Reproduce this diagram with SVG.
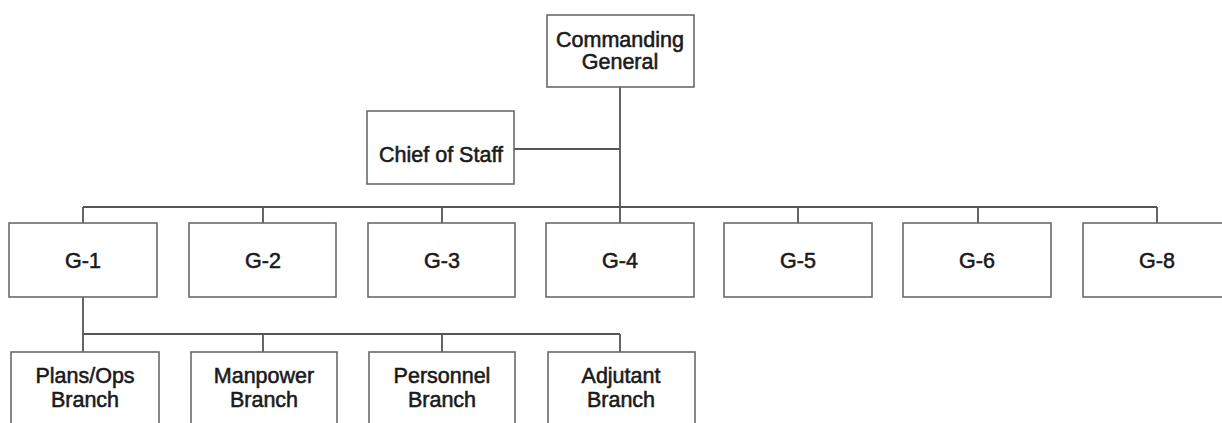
<svg xmlns="http://www.w3.org/2000/svg" width="1222" height="423" viewBox="0 0 1222 423">
<style>
.box{fill:#fff;stroke:#6a6a6a;stroke-width:1.6}
.t{font-family:"Liberation Sans",Arial,sans-serif;font-size:21.5px;fill:#1a1a1a;stroke:#1a1a1a;stroke-width:0.55;text-anchor:middle}
.c{fill:none;stroke:#555;stroke-width:1.8}
</style>
<rect width="1222" height="423" fill="#fff"/>
<g id="connectors">
<path class="c" d="M620 87V207M514 149H620M83 207H1157M83 207V223M263 207V223M442 207V223M620 207V223M798 207V223M978 207V223M1157 207V223M83 297V334H620M263 334V352M442 334V352M620 334V352M83 334V352"/>
</g>
<g id="cg"><rect class="box" x="547" y="15" width="147" height="72"/><text class="t" x="620" y="47">Commanding</text><text class="t" x="620" y="69">General</text></g>
<g id="cos"><rect class="box" x="367" y="111" width="147" height="73"/><text class="t" x="441" y="162">Chief of Staff</text></g>
<g id="g1"><rect class="box" x="9" y="223" width="148" height="74"/><text class="t" x="83" y="268">G-1</text></g>
<g id="g2"><rect class="box" x="189" y="223" width="147" height="74"/><text class="t" x="263" y="268">G-2</text></g>
<g id="g3"><rect class="box" x="368" y="223" width="147" height="74"/><text class="t" x="442" y="268">G-3</text></g>
<g id="g4"><rect class="box" x="546" y="223" width="148" height="74"/><text class="t" x="620" y="268">G-4</text></g>
<g id="g5"><rect class="box" x="724" y="223" width="148" height="74"/><text class="t" x="798" y="268">G-5</text></g>
<g id="g6"><rect class="box" x="903" y="223" width="148" height="74"/><text class="t" x="977" y="268">G-6</text></g>
<g id="g8"><rect class="box" x="1083" y="223" width="148" height="74"/><text class="t" x="1157" y="268">G-8</text></g>
<g id="b1"><rect class="box" x="11" y="352" width="148" height="80"/><text class="t" x="85" y="383">Plans/Ops</text><text class="t" x="85" y="407">Branch</text></g>
<g id="b2"><rect class="box" x="191" y="352" width="146" height="80"/><text class="t" x="264" y="383">Manpower</text><text class="t" x="264" y="407">Branch</text></g>
<g id="b3"><rect class="box" x="369" y="352" width="146" height="80"/><text class="t" x="442" y="383">Personnel</text><text class="t" x="442" y="407">Branch</text></g>
<g id="b4"><rect class="box" x="548" y="352" width="147" height="80"/><text class="t" x="621" y="383">Adjutant</text><text class="t" x="621" y="407">Branch</text></g>
</svg>
